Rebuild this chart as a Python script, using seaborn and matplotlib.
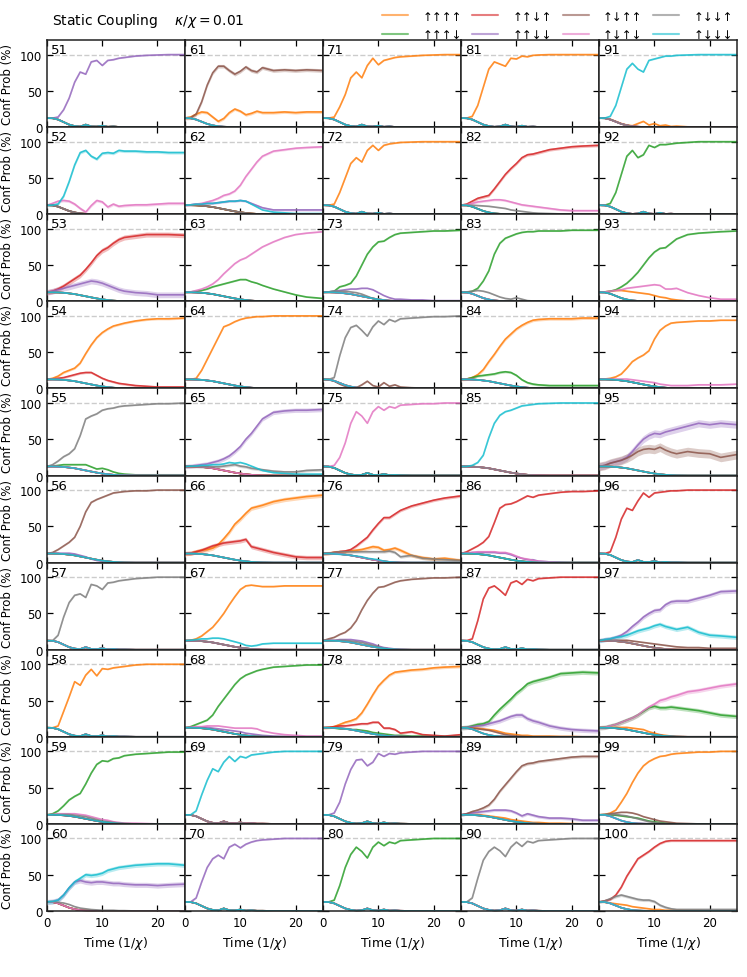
import numpy as np
import pandas as pd
import matplotlib
matplotlib.use("Agg")
import matplotlib.pyplot as plt
from matplotlib.lines import Line2D
import seaborn as sns

# --------------------------------
# 1. Data
# --------------------------------
T = [0, 1, 2, 3, 4, 5, 6, 7, 8, 9, 10, 11, 12, 13, 14, 16, 18, 20, 22, 25]

uuuu, uuud, uudu, uudd = "↑↑↑↑", "↑↑↑↓", "↑↑↓↑", "↑↑↓↓"
uduu, udud, uddu, uddd = "↑↓↑↑", "↑↓↑↓", "↑↓↓↑", "↑↓↓↓"
configs = [uuuu, uuud, uudu, uudd, uduu, udud, uddu, uddd]
colors = ["tab:orange", "tab:green", "tab:red", "tab:purple",
          "tab:brown", "tab:pink", "tab:gray", "tab:cyan"]

# shapes shared by the many configurations that just die out
decay_fast = [12.5, 12.3, 10.5, 7.5, 4.5, 2.5, 1.2, 0.6, 0.3, 0.1, 0, 0, 0, 0, 0, 0, 0, 0, 0, 0]
decay_slow = [12.5, 12.5, 12.3, 11.8, 11, 10, 8.5, 7, 5.5, 4, 2.8, 1.8, 1, 0.5, 0.2, 0, 0, 0, 0, 0]
decay_osc_a = [12.5, 12.3, 10.5, 7, 3.5, 1.5, 0.8, 3.5, 1, 0.8, 2, 0.5, 1, 0.3, 0.3, 0, 0, 0, 0, 0]
decay_osc_b = [12.5, 12.3, 10.5, 7, 3.5, 1.5, 0.5, 1, 3.5, 1, 0.5, 2, 0.5, 0.8, 0.3, 0, 0, 0, 0, 0]

p51 = {"rest": decay_osc_a,
       uudd: [12.5, 12.5, 14, 24, 40, 62, 76, 73, 90, 92, 85, 92, 93, 95, 96, 98, 99, 99.5, 100, 100]}
p52 = {"rest": decay_fast,
       uddd: [12.5, 12.5, 14, 25, 45, 68, 85, 88, 80, 76, 84, 85, 84, 88, 87, 87, 86, 86, 85, 85],
       udud: [12.5, 15, 18, 19, 18, 14, 8, 3, 12, 19, 17, 10, 14, 11, 12, 13, 13, 14, 15, 15],
       "band": {uddd: 2, udud: 2}}
p53 = {"rest": decay_slow,
       uudu: [12.5, 14, 17, 21, 26, 31, 36, 44, 53, 63, 70, 74, 80, 85, 88, 90, 92, 92, 92, 91],
       uudd: [12.5, 14, 16, 18, 20, 22, 24, 26, 28, 27, 25, 22, 19, 16, 14, 12, 11, 9, 9, 9],
       "band": {uudu: 3.5, uudd: 4}}
p54 = {"rest": decay_slow,
       uuuu: [12.5, 14, 17, 22, 25, 28, 35, 48, 60, 70, 77, 82, 86, 88, 90, 93, 95, 96, 96, 97],
       uudu: [12.5, 13, 14, 15, 17, 19, 21, 22, 22, 18, 14, 11, 9, 7, 6, 4, 3, 2, 2, 2],
       "band": {uuuu: 1.5, uudu: 1.5}}
p55 = {"rest": decay_slow,
       uddu: [12.5, 15, 20, 26, 30, 37, 55, 78, 82, 85, 90, 92, 93, 95, 96, 97, 98, 99, 99, 100],
       uuud: [12.5, 13, 14, 15, 15, 15, 15, 15, 12, 9, 10, 8, 5, 3, 2, 1, 1, 1, 1, 1]}
p56 = {"rest": decay_slow,
       uduu: [12.5, 14, 18, 23, 28, 35, 50, 70, 83, 87, 90, 93, 96, 97, 98, 99, 99, 100, 100, 100],
       uudd: [12.5, 13, 13, 13, 13, 12, 10, 8, 5, 3, 2, 1, 0.5, 0, 0, 0, 0, 0, 0, 0]}
p57 = {"rest": decay_osc_a,
       uddu: [12.5, 12.5, 20, 45, 65, 75, 77, 72, 90, 88, 83, 92, 93, 95, 96, 98, 99, 100, 100, 100]}
p58 = {"rest": decay_osc_a,
       uuuu: [12.5, 12.5, 15, 35, 55, 76, 71, 85, 93, 84, 94, 93, 95, 96, 97, 99, 100, 100, 100, 100]}
p59 = {"rest": decay_slow,
       uuud: [12.5, 14, 18, 25, 33, 38, 42, 55, 70, 82, 87, 86, 90, 91, 94, 96, 97, 98, 99, 99],
       udud: [12.5, 13, 14, 14, 14, 14, 13, 12, 10, 8, 6, 5, 3, 2, 1, 1, 0.5, 0, 0, 0],
       uddu: [12.5, 13, 13, 13, 13, 12, 11, 10, 8, 6, 4, 3, 2, 1, 0.5, 0, 0, 0, 0, 0]}
p60 = {"rest": decay_fast,
       uddd: [12.5, 13, 15, 22, 32, 40, 45, 50, 49, 50, 52, 56, 58, 60, 61, 63, 64, 65, 65, 63],
       uudd: [12.5, 13, 15, 22, 32, 40, 42, 40, 39, 40, 40, 39, 38, 38, 37, 36, 36, 35, 36, 37],
       uddu: [12.5, 13, 12, 11, 9, 6, 4, 3, 2, 1.5, 1, 1, 1, 0.5, 0.5, 0, 0, 0, 0, 0],
       "band": {uddd: 3, uudd: 3.5}}

p61 = {"rest": decay_fast,
       uduu: [12.5, 13, 18, 35, 58, 75, 84, 84, 78, 73, 77, 83, 78, 76, 82, 78, 79, 78, 79, 78],
       uuuu: [12.5, 14, 18, 21, 20, 14, 8, 12, 20, 25, 22, 17, 19, 22, 20, 20, 21, 20, 21, 21],
       "band": {uduu: 2.5, uuuu: 2}}
p62 = {"rest": decay_slow,
       udud: [12.5, 13, 14, 15, 17, 19, 22, 26, 28, 32, 40, 52, 62, 72, 80, 87, 89, 91, 92, 93],
       uudd: [12.5, 13, 14, 14, 15, 15, 16, 17, 18, 18, 19, 18, 15, 12, 9, 6, 6, 6, 6, 6],
       uddd: [12.5, 13, 14, 14, 15, 15, 16, 17, 18, 18, 19, 18, 14, 10, 6, 3, 2, 1, 1, 1],
       "band": {udud: 1.5, uudd: 1.5}}
p63 = {"rest": decay_slow,
       udud: [12.5, 13, 15, 17, 20, 24, 30, 38, 45, 52, 57, 60, 65, 70, 75, 82, 88, 92, 94, 96],
       uuud: [12.5, 13, 14, 15, 17, 20, 22, 24, 26, 28, 30, 30, 27, 25, 22, 17, 13, 9, 6, 4]}
p64 = {"rest": decay_slow,
       uuuu: [12.5, 12.5, 14, 25, 40, 55, 70, 85, 88, 92, 95, 97, 98, 99, 99, 100, 100, 100, 100, 100]}
p65 = {"rest": decay_slow,
       uudd: [12.5, 13, 14, 15, 16, 18, 20, 23, 27, 33, 40, 50, 58, 68, 78, 87, 89, 90, 90, 91],
       uddd: [12.5, 13, 13, 14, 14, 15, 15, 16, 18, 17, 18, 16, 13, 10, 7, 4, 3, 2, 2, 2],
       uddu: [12.5, 12.5, 12.5, 12, 12, 12, 12, 13, 14, 15, 13, 12, 10, 9, 8, 6, 5, 5, 7, 8],
       "band": {uudd: 3, uddu: 2}}
p66 = {"rest": decay_slow,
       uuuu: [12.5, 13, 15, 17, 18, 20, 25, 33, 42, 53, 60, 68, 75, 77, 79, 84, 87, 89, 91, 93],
       uudu: [12.5, 13, 15, 17, 20, 23, 25, 27, 28, 29, 30, 32, 22, 20, 18, 14, 11, 8, 7, 7],
       "band": {uuuu: 3, uudu: 3}}
p67 = {"rest": decay_slow,
       uuuu: [12.5, 13, 15, 19, 25, 31, 40, 50, 62, 73, 83, 88, 89, 88, 87, 87, 88, 88, 88, 88],
       uddd: [12.5, 13, 14, 15, 15, 16, 16, 15, 13, 11, 9, 6, 5, 6, 8, 9, 9, 9, 9, 9]}
p68 = {"rest": decay_slow,
       uuud: [12.5, 14, 17, 20, 23, 30, 42, 52, 62, 72, 80, 85, 88, 91, 93, 96, 97, 98, 99, 99],
       udud: [12.5, 13, 14, 14, 15, 15, 15, 14, 13, 12, 12, 12, 12, 11, 8, 5, 3, 2, 1, 1],
       uudd: [12.5, 13, 13, 13, 13, 12, 11, 10, 9, 8, 7, 5, 4, 3, 2, 1, 0.5, 0, 0, 0]}
p69 = {"rest": decay_osc_a,
       uddd: [12.5, 12.5, 18, 40, 60, 76, 72, 85, 93, 86, 93, 91, 95, 96, 97, 99, 100, 100, 100, 100]}
p70 = {"rest": decay_osc_a,
       uudd: [12.5, 12.5, 18, 40, 60, 72, 77, 72, 88, 92, 87, 92, 95, 97, 98, 99, 100, 100, 100, 100]}

p71 = {"rest": decay_osc_a,
       uuuu: [12.5, 12.5, 14, 28, 45, 68, 76, 68, 85, 95, 86, 92, 94, 96, 97, 98, 99, 99.5, 100, 100]}
p72 = {"rest": decay_osc_a,
       uuuu: [12.5, 12.5, 14, 30, 50, 70, 78, 72, 88, 95, 88, 95, 97, 98, 99, 99.5, 100, 100, 100, 100]}
p73 = {"rest": decay_slow,
       uuud: [12.5, 13, 14, 20, 22, 25, 35, 50, 65, 75, 82, 83, 88, 92, 94, 95, 96, 97, 97, 98],
       uudd: [12.5, 13, 14, 15, 16, 17, 17, 18, 18, 16, 12, 8, 5, 3, 3, 2, 2, 1, 1, 1],
       uddu: [12.5, 13, 14, 14, 14, 13, 12, 10, 7, 4, 2, 1, 0.5, 0, 0, 0, 0, 0, 0, 0]}
p74 = {"rest": decay_fast,
       uddu: [12.5, 12.5, 15, 45, 70, 84, 87, 80, 72, 85, 93, 88, 95, 92, 96, 97, 98, 99, 99, 100],
       uduu: [12.5, 12, 10, 6, 3, 1, 1, 5, 10, 4, 2, 8, 3, 5, 2, 1, 0.5, 0, 0, 0]}
p75 = {"rest": decay_osc_b,
       udud: [12.5, 12.5, 14, 25, 45, 72, 88, 82, 72, 88, 95, 90, 95, 93, 97, 98, 99, 99, 100, 100]}
p76 = {"rest": decay_slow,
       uudu: [12.5, 13, 14, 15, 16, 18, 23, 29, 35, 45, 54, 62, 62, 67, 72, 78, 82, 86, 89, 92],
       uuuu: [12.5, 13, 14, 15, 15, 16, 17, 18, 20, 22, 21, 17, 18, 20, 17, 10, 7, 5, 6, 3],
       uddu: [12.5, 13, 14, 15, 15, 15, 15, 15, 15, 15, 15, 15, 16, 14, 8, 10, 6, 5, 4, 3],
       uddd: [12.5, 12.5, 12, 11.5, 11, 10, 9, 8, 6, 5, 4, 2, 1, 0.5, 0, 0, 0, 0, 0, 0],
       "band": {uudu: 2, uuuu: 2.5, uddu: 2}}
p77 = {"rest": decay_slow,
       uduu: [12.5, 15, 17, 21, 24, 30, 40, 55, 68, 78, 86, 87, 90, 93, 95, 97, 98, 99, 99, 100],
       uudd: [12.5, 13, 13, 14, 14, 14, 13, 12, 10, 8, 5, 3, 2, 1, 0.5, 0, 0, 0, 0, 0],
       uddu: [12.5, 12.5, 12.5, 13, 13, 12, 11, 10, 8, 6, 4, 2, 1, 0.5, 0, 0, 0, 0, 0, 0]}
p78 = {"rest": decay_slow,
       uuuu: [12.5, 13, 14, 17, 20, 22, 25, 33, 45, 58, 70, 78, 85, 89, 90, 92, 93, 95, 96, 97],
       uudu: [12.5, 13, 14, 15, 15, 16, 17, 18, 18, 20, 20, 12, 12, 10, 5, 7, 3, 2, 1, 3],
       uuud: [12.5, 12.5, 12, 11, 11, 10, 10, 9, 8, 6, 5, 4, 3, 2, 2, 1, 1, 0.5, 0.5, 0.5],
       "band": {uuuu: 2, uudu: 1.5}}
p79 = {"rest": decay_osc_b,
       uudd: [12.5, 12.5, 15, 30, 55, 75, 88, 89, 80, 85, 97, 93, 97, 96, 98, 99, 100, 100, 100, 100]}
p80 = {"rest": decay_osc_b,
       uuud: [12.5, 12.5, 15, 35, 60, 78, 88, 82, 73, 88, 95, 90, 95, 93, 97, 98, 99, 100, 100, 100]}

p81 = {"rest": decay_osc_b,
       uuuu: [12.5, 12.5, 15, 30, 55, 80, 90, 87, 84, 95, 94, 98, 97, 99, 99.5, 100, 100, 100, 100, 100]}
p82 = {"rest": decay_fast,
       uudu: [12.5, 14, 18, 22, 24, 26, 35, 45, 55, 63, 70, 78, 82, 83, 85, 89, 91, 93, 94, 95],
       udud: [12.5, 13, 15, 17, 18, 19, 20, 20, 19, 17, 15, 13, 12, 11, 10, 8, 6, 5, 5, 5],
       uddu: [12.5, 12.5, 12.5, 12, 11.5, 11, 10, 9, 8, 6, 5, 4, 3, 2, 1.5, 1, 0.5, 0, 0, 0],
       "band": {uudu: 2, udud: 1.5}}
p83 = {"rest": decay_fast,
       uuud: [12.5, 12.5, 14, 18, 28, 42, 65, 80, 87, 90, 93, 95, 96, 96, 97, 97, 97, 98, 98, 98],
       uddu: [12.5, 13, 14, 15, 14, 12, 9, 6, 4, 3, 5, 3, 1, 0.5, 0, 0, 0, 0, 0, 0]}
p84 = {"rest": decay_slow,
       uuuu: [12.5, 13, 15, 19, 26, 37, 47, 58, 68, 75, 82, 87, 91, 94, 95, 96, 96, 96, 97, 97],
       uuud: [12.5, 13, 15, 17, 18, 19, 20, 22, 23, 22, 18, 12, 8, 6, 5, 4, 4, 4, 4, 4],
       "band": {uuuu: 2, uuud: 1.5}}
p85 = {"rest": decay_slow,
       uddd: [12.5, 12.5, 14, 18, 28, 52, 72, 83, 88, 90, 93, 96, 97, 98, 99, 99.5, 100, 100, 100, 100]}
p86 = {"rest": decay_slow,
       uudu: [12.5, 15, 19, 23, 28, 36, 55, 75, 80, 81, 84, 88, 92, 90, 93, 95, 97, 98, 98, 99],
       udud: [12.5, 13, 14, 15, 15, 15, 15, 14, 14, 12, 9, 6, 5, 3, 2, 1, 0, 0, 0, 0],
       uudd: [12.5, 13, 14, 14, 14, 14, 14, 13, 13, 11, 8, 6, 4, 4, 2, 1, 0.5, 0, 0, 0]}
p87 = {"rest": decay_osc_b,
       uudu: [12.5, 12.5, 15, 40, 70, 85, 88, 82, 75, 92, 95, 90, 97, 95, 98, 99, 100, 100, 100, 100]}
p88 = {"rest": decay_fast,
       uuud: [12.5, 13, 15, 17, 18, 21, 30, 38, 45, 52, 60, 66, 73, 76, 78, 82, 87, 88, 89, 88],
       uudd: [12.5, 13, 14, 15, 16, 18, 20, 22, 25, 28, 30, 30, 25, 22, 20, 15, 12, 10, 9, 8],
       uuuu: [12.5, 12.5, 12, 12, 11, 10, 9, 7, 5, 4, 3, 2, 2, 1, 1, 1, 0.5, 0.5, 0, 0],
       uduu: [12.5, 12.5, 12, 11, 10, 9, 7, 5, 3, 2, 1, 0.5, 0, 0, 0, 0, 0, 0, 0, 0],
       "band": {uuud: 3, uudd: 3}}
p89 = {"rest": decay_slow,
       uduu: [12.5, 14, 17, 19, 22, 26, 34, 45, 54, 63, 72, 80, 83, 84, 86, 88, 90, 92, 93, 93],
       uudd: [12.5, 14, 15, 16, 17, 18, 19, 19, 19, 18, 15, 11, 14, 12, 10, 8, 8, 7, 5, 5],
       uuuu: [12.5, 13, 13, 13, 12, 11, 10, 9, 8, 6, 5, 4, 3, 2, 2, 1, 1, 0.5, 0, 0],
       "band": {uduu: 2, uudd: 2}}
p90 = {"rest": decay_osc_b,
       uddu: [12.5, 12.5, 18, 45, 70, 82, 88, 83, 75, 88, 95, 89, 96, 94, 97, 98, 99, 100, 100, 100]}

p91 = {"rest": decay_fast,
       uddd: [12.5, 12.5, 15, 30, 55, 80, 88, 80, 76, 92, 94, 96, 98, 98, 99, 99.5, 100, 100, 100, 100],
       uuuu: [12.5, 12.5, 11, 8, 5, 3, 2, 5, 8, 3, 5, 2, 3, 1, 1.5, 0.5, 0.3, 0, 0, 0]}
p92 = {"rest": decay_osc_b,
       uuud: [12.5, 12.5, 15, 30, 55, 80, 88, 78, 82, 95, 92, 96, 96, 97, 98, 99, 100, 100, 100, 100]}
p93 = {"rest": decay_fast,
       uuud: [12.5, 13, 14, 16, 20, 25, 32, 40, 50, 60, 68, 73, 74, 80, 86, 92, 94, 95, 96, 97],
       udud: [12.5, 13, 14, 15, 16, 18, 19, 20, 21, 22, 23, 22, 17, 17, 18, 12, 8, 5, 3, 3],
       uuuu: [12.5, 13, 14, 15, 15, 14, 13, 12, 11, 10, 8, 6, 5, 3, 2, 0.5, 0, 0, 0, 0]}
p94 = {"rest": decay_slow,
       uuuu: [12.5, 13, 14, 16, 20, 28, 37, 42, 46, 52, 68, 80, 86, 90, 91, 92, 93, 93, 94, 94],
       udud: [12.5, 13, 13, 13, 13, 13, 12, 11, 10, 9, 8, 6, 5, 4, 4, 4, 5, 5, 5, 6]}
p95 = {"rest": decay_slow,
       uudd: [12.5, 14, 17, 19, 21, 25, 33, 42, 50, 55, 58, 57, 60, 62, 64, 68, 72, 70, 72, 70],
       uduu: [12.5, 14, 17, 19, 21, 24, 28, 33, 36, 37, 36, 39, 35, 32, 30, 33, 31, 30, 25, 29],
       "band": {uudd: 5, uduu: 6}}
p96 = {"rest": decay_osc_a,
       uudu: [12.5, 12.5, 15, 35, 60, 75, 72, 85, 96, 90, 96, 97, 98, 99, 99, 100, 100, 100, 100, 100]}
p97 = {"rest": decay_slow,
       uudd: [12.5, 14, 15, 17, 20, 25, 32, 38, 45, 50, 54, 55, 62, 66, 67, 67, 71, 75, 80, 81],
       uddd: [12.5, 14, 15, 17, 18, 20, 23, 26, 28, 30, 33, 35, 32, 30, 28, 31, 24, 20, 19, 17],
       uduu: [12.5, 13, 13, 13, 13, 13, 12, 11, 10, 9, 8, 7, 6, 5, 4, 3, 3, 2, 2, 2],
       "band": {uudd: 3, uddd: 3}}
p98 = {"rest": decay_slow,
       udud: [12.5, 13, 15, 17, 20, 23, 26, 30, 36, 41, 45, 50, 52, 55, 57, 62, 64, 67, 70, 73],
       uuud: [12.5, 13, 15, 17, 20, 23, 26, 30, 35, 40, 42, 40, 40, 41, 40, 38, 36, 33, 30, 28],
       uuuu: [12.5, 13, 13, 13, 13, 13, 12, 11, 10, 7, 5, 3, 2, 1, 0.5, 0, 0, 0, 0, 0],
       "band": {udud: 3, uuud: 3}}
p99 = {"rest": decay_fast,
       uuuu: [12.5, 13, 15, 19, 30, 42, 57, 70, 80, 86, 90, 93, 94, 96, 97, 98, 99, 99, 100, 100],
       uduu: [12.5, 13, 14, 15, 16, 16, 15, 13, 10, 8, 6, 4, 3, 2, 1, 0.5, 0, 0, 0, 0],
       uddu: [12.5, 13, 13, 13, 12, 11, 9, 7, 5, 3, 2, 1, 0.5, 0, 0, 0, 0, 0, 0, 0],
       uuud: [12.5, 12.5, 12.5, 12, 11, 10, 9, 8, 6, 4, 3, 2, 1, 0.5, 0, 0, 0, 0, 0, 0]}
p100 = {"rest": decay_fast,
        uudu: [12.5, 14, 16, 22, 33, 48, 60, 72, 77, 82, 88, 93, 96, 97, 97, 97, 97, 97, 97, 97],
        uddu: [12.5, 14, 17, 20, 22, 20, 18, 16, 15, 15, 13, 8, 5, 3, 2, 2, 2, 2, 2, 2],
        uuuu: [12.5, 12, 11, 10, 9, 8, 6, 5, 4, 3, 2, 2, 1, 1, 1, 0.5, 0.5, 0, 0, 0],
        "band": {uudu: 1.5, uddu: 2}}

panel_data = {n: globals()[f"p{n}"] for n in range(51, 101)}
palette = dict(zip(configs, colors))


# --------------------------------
# 2. Plotting
# --------------------------------
sns.set_style("ticks")
plt.rcParams["font.family"] = ["DejaVu Sans"]
plt.rcParams["text.color"] = "black"
plt.rcParams["axes.labelcolor"] = "black"
plt.rcParams["xtick.color"] = "black"
plt.rcParams["ytick.color"] = "black"

fig, axes = plt.subplots(10, 5, figsize=(7.47, 9.78), dpi=100, sharex=True, sharey=True)
fig.subplots_adjust(left=0.063, right=0.987, top=0.958, bottom=0.0675, hspace=0, wspace=0)

for col in range(5):
    for row in range(10):
        n = 51 + col * 10 + row
        ax = axes[row, col]
        data = panel_data[n]
        bands = data.get("band", {})

        frames = []
        for cfg in configs:
            vals = data.get(cfg, data["rest"])
            frames.append(pd.DataFrame({"t": T, "prob": vals, "config": cfg}))
        df = pd.concat(frames, ignore_index=True)

        ax.axhline(100, color="#cccccc", ls="--", lw=1, zorder=0)

        # shaded spread around each curve
        for cfg in configs:
            sub = df[df["config"] == cfg]
            b = bands.get(cfg, 0.8 if cfg in data else 0.4)
            ax.fill_between(sub["t"], np.clip(sub["prob"] - b, 0, None), sub["prob"] + b,
                            color=palette[cfg], alpha=0.3, lw=0)

        sns.lineplot(data=df, x="t", y="prob", hue="config", hue_order=configs,
                     palette=palette, ax=ax, legend=False, lw=1.2, alpha=0.85)

        ax.text(0.03, 0.965, str(n), transform=ax.transAxes, ha="left", va="top", fontsize=9.5)

        ax.set_xlim(0, 25)
        ax.set_ylim(0, 120)
        ax.set_xticks([0, 10, 20])
        ax.set_yticks([0, 50, 100])
        ax.tick_params(direction="in", top=True, right=True, length=4, labelsize=8.5, width=0.9)
        for sp in ax.spines.values():
            sp.set_color("#222222")
            sp.set_linewidth(1.1)
        ax.set_xlabel("Time (1/$\\chi$)" if row == 9 else "", fontsize=9)
        ax.set_ylabel("Conf Prob (%)" if col == 0 else "", fontsize=8.5)

fig.text(0.07, 0.979, "Static Coupling    $\\kappa/\\chi = 0.01$", fontsize=10, va="center")

handles = [Line2D([0], [0], color=palette[c], lw=1.5, alpha=0.6) for c in configs]
fig.legend(handles, configs, ncol=4, loc="upper right", bbox_to_anchor=(0.995, 1.0),
           frameon=False, fontsize=8.5, handlelength=2.2, handletextpad=1.2,
           columnspacing=0.9, labelspacing=0.45)

plt.savefig("out.png", dpi=100)
